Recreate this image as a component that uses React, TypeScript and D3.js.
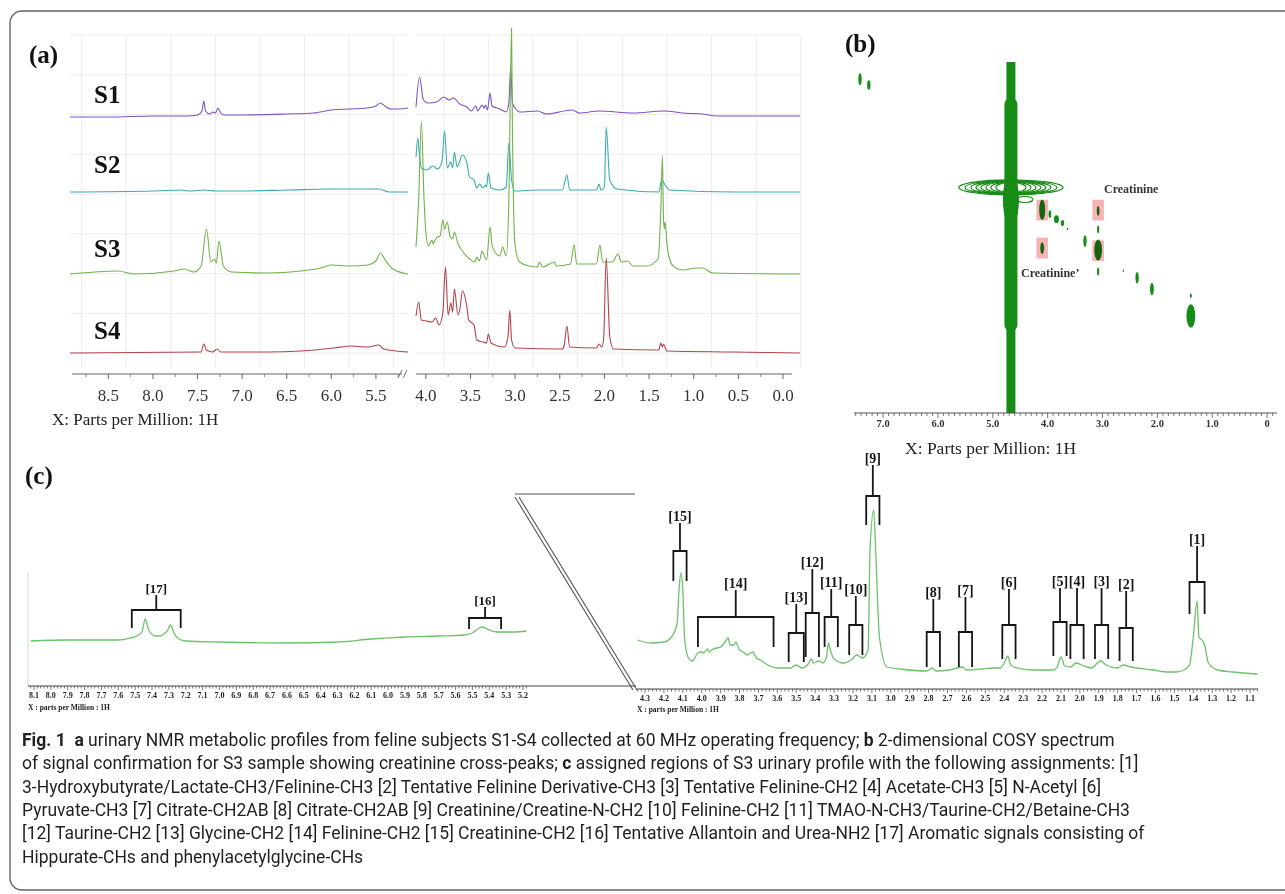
import React from "react";
import * as d3 from "d3";

type Pt = [number, number];

// ---------- (a) 60 MHz 1H urinary profiles: [ppm, intensity] ----------
const samplesA = ["S1", "S2", "S3", "S4"];

const s1Left: Pt[] = [[8.93,0],[8.5,0],[8.0,1],[7.6,1],[7.5,2],[7.45,6],[7.43,16],[7.41,6],[7.36,3],[7.33,5],[7.3,4],[7.27,9],[7.24,4],[7.2,2],[7.0,2],[6.5,3],[6.2,4],[6.0,7],[5.8,8],[5.6,9],[5.5,11],[5.45,14],[5.4,11],[5.33,8],[5.25,8],[5.14,9]];
const s1Right: Pt[] = [[4.11,10],[4.07,40],[4.03,18],[3.98,14],[3.88,15],[3.8,20],[3.74,17],[3.69,19],[3.62,13],[3.54,10],[3.49,6],[3.44,11],[3.42,6],[3.37,12],[3.35,9],[3.33,12],[3.31,7],[3.28,24],[3.26,11],[3.17,8],[3.1,5],[3.07,14],[3.05,50],[3.03,14],[3.0,9],[2.95,5],[2.75,6],[2.65,3],[2.36,7],[2.28,4],[2.06,6],[1.68,4],[1.33,6],[1.13,4],[0.9,3],[0.74,1],[-0.19,1]];

const s2Left: Pt[] = [[8.93,0],[8.0,1],[7.68,2],[7.6,1],[7.42,2],[7.3,1],[7.0,1],[6.5,2],[6.0,3],[5.7,3],[5.47,3],[5.35,0],[5.14,0]];
const s2Right: Pt[] = [[4.11,35],[4.09,54],[4.07,35],[4.05,24],[3.99,22],[3.92,26],[3.87,23],[3.82,30],[3.79,61],[3.76,24],[3.72,30],[3.7,24],[3.68,40],[3.65,25],[3.59,37],[3.54,29],[3.51,15],[3.46,12],[3.43,4],[3.4,8],[3.36,4],[3.33,7],[3.32,5],[3.3,19],[3.27,4],[3.17,2],[3.1,5],[3.07,49],[3.04,12],[3.0,1],[2.76,2],[2.47,2],[2.42,17],[2.39,2],[2.09,2],[2.06,8],[2.04,2],[2.0,5],[1.98,65],[1.94,12],[1.86,3],[1.39,0],[1.36,12],[1.32,7],[1.27,2],[0.56,0],[-0.19,0]];

const s3Left: Pt[] = [[8.93,0],[8.39,3],[8.21,0],[7.76,3],[7.65,5],[7.54,2],[7.46,8],[7.4,45],[7.35,12],[7.31,15],[7.29,11],[7.26,33],[7.21,8],[7.12,2],[6.71,1],[6.34,3],[6.12,6],[6.0,9],[5.78,8],[5.59,9],[5.5,13],[5.45,21],[5.39,13],[5.31,5],[5.14,0]];
const s3Right: Pt[] = [[4.11,27],[4.08,75],[4.05,153],[4.02,75],[4.0,42],[3.97,28],[3.93,34],[3.92,30],[3.89,35],[3.87,37],[3.84,38],[3.81,54],[3.79,45],[3.76,52],[3.73,38],[3.7,35],[3.68,42],[3.64,30],[3.59,23],[3.51,15],[3.45,12],[3.43,17],[3.4,13],[3.37,23],[3.34,17],[3.32,14],[3.28,47],[3.26,30],[3.21,20],[3.17,18],[3.14,27],[3.1,18],[3.07,75],[3.04,246],[3.03,142],[3.0,28],[2.95,12],[2.84,8],[2.75,7],[2.73,12],[2.69,7],[2.56,12],[2.54,8],[2.38,10],[2.34,29],[2.31,10],[2.09,10],[2.05,29],[2.02,12],[1.91,12],[1.85,20],[1.81,12],[1.74,13],[1.68,8],[1.53,8],[1.4,15],[1.37,60],[1.35,118],[1.34,60],[1.33,45],[1.32,52],[1.3,30],[1.27,15],[1.23,8],[1.12,4],[0.97,6],[0.9,6],[0.79,1],[-0.19,0]];

const s4Left: Pt[] = [[8.93,0],[7.46,1],[7.43,9],[7.4,3],[7.33,1],[7.28,4],[7.24,1],[6.71,1],[6.34,2],[5.97,5],[5.78,7],[5.59,6],[5.47,8],[5.41,4],[5.14,1]];
const s4Right: Pt[] = [[4.11,37],[4.08,51],[4.05,33],[3.99,32],[3.93,31],[3.89,35],[3.85,28],[3.81,40],[3.78,86],[3.75,38],[3.72,50],[3.7,41],[3.68,64],[3.64,38],[3.62,43],[3.59,62],[3.54,46],[3.52,33],[3.46,28],[3.43,13],[3.36,11],[3.32,10],[3.3,19],[3.27,10],[3.12,6],[3.08,16],[3.06,43],[3.04,13],[3.0,5],[2.47,4],[2.45,8],[2.42,27],[2.39,6],[2.09,5],[2.06,9],[2.03,6],[2.01,13],[1.98,95],[1.94,16],[1.9,4],[1.39,3],[1.37,10],[1.35,6],[1.34,9],[1.3,2],[0.56,1],[-0.19,0]];

const leftA = [s1Left, s2Left, s3Left, s4Left];
const rightA = [s1Right, s2Right, s3Right, s4Right];
const ticksALeft = [8.5, 8.0, 7.5, 7.0, 6.5, 6.0, 5.5];
const ticksARight = [4.0, 3.5, 3.0, 2.5, 2.0, 1.5, 1.0, 0.5, 0.0];

// ---------- (b) COSY peaks: [f2, f1, half-width f2, half-width f1] ----------
const waterPpm = 4.67;
const cosyPeaks: [number, number, number, number][] = [
  [7.42, 7.44, 0.03, 0.16], [7.26, 7.29, 0.03, 0.12],
  [4.10, 4.10, 0.055, 0.26], [3.96, 3.99, 0.025, 0.1], [3.84, 3.86, 0.045, 0.1],
  [3.73, 3.76, 0.03, 0.08], [3.64, 3.61, 0.012, 0.03], [3.32, 3.30, 0.03, 0.15],
  [3.08, 3.07, 0.07, 0.27], [3.08, 4.07, 0.025, 0.12], [3.08, 3.60, 0.02, 0.1],
  [3.08, 2.52, 0.02, 0.1], [4.10, 3.12, 0.035, 0.15], [2.62, 2.54, 0.012, 0.03],
  [2.37, 2.36, 0.03, 0.15], [2.10, 2.07, 0.035, 0.16], [1.39, 1.90, 0.018, 0.06],
  [1.39, 1.38, 0.08, 0.3],
];
const creatinineCross: Pt[] = [[4.10, 4.09], [3.08, 4.09], [4.10, 3.12], [3.08, 3.05]];
const ticksB = [7, 6, 5, 4, 3, 2, 1, 0];

// ---------- (c) S3 assigned regions: [ppm, intensity] ----------
const cAromatic: Pt[] = [[8.12,0],[7.9,1],[7.75,1],[7.6,1],[7.53,3],[7.49,5],[7.46,9],[7.44,22],[7.42,11],[7.38,5],[7.35,5],[7.33,7],[7.31,10],[7.29,16],[7.27,8],[7.24,2],[7.2,0],[7.0,-1],[6.6,-2],[6.3,-1],[6.1,2],[5.9,4],[5.7,5],[5.55,6],[5.5,8],[5.46,13],[5.44,14],[5.4,11],[5.35,9],[5.25,9],[5.18,10]];
const cAliphatic: Pt[] = [[4.34,30],[4.27,27],[4.2,28],[4.16,33],[4.13,47],[4.12,80],[4.11,97],[4.1,80],[4.09,30],[4.07,12],[4.05,9],[4.02,17],[4.0,18],[3.99,17],[3.97,21],[3.96,18],[3.94,21],[3.9,23],[3.88,27],[3.86,32],[3.85,25],[3.83,25],[3.82,28],[3.8,20],[3.78,18],[3.76,15],[3.74,17],[3.73,18],[3.71,12],[3.69,10],[3.65,5],[3.6,2],[3.53,2],[3.5,5],[3.47,2],[3.44,5],[3.42,11],[3.41,7],[3.38,9],[3.36,7],[3.34,13],[3.33,27],[3.32,20],[3.3,11],[3.25,7],[3.21,10],[3.18,15],[3.15,12],[3.12,20],[3.11,120],[3.09,160],[3.08,120],[3.06,33],[3.02,3],[2.95,1],[2.81,-1],[2.78,2],[2.76,-1],[2.69,0],[2.62,3],[2.6,0],[2.52,1],[2.46,2],[2.42,2],[2.4,7],[2.38,14],[2.37,7],[2.35,3],[2.25,0],[2.14,0],[2.12,3],[2.1,13],[2.08,4],[2.05,3],[2.02,7],[1.99,5],[1.94,2],[1.89,9],[1.86,5],[1.8,2],[1.77,5],[1.73,3],[1.61,0],[1.54,-2],[1.49,-2],[1.45,0],[1.42,5],[1.4,33],[1.38,69],[1.37,33],[1.35,29],[1.34,25],[1.32,7],[1.27,0],[1.19,-2],[1.06,-4]];

// assignment brackets: [label, ppm from, ppm to, leg end, bar, stem top] (intensity units)
const assignRight: [string, number, number, number, number, number][] = [
  ["[15]", 4.15, 4.08, 89, 119, 147], ["[14]", 4.02, 3.62, 23, 53, 80],
  ["[13]", 3.54, 3.46, 8, 37, 66], ["[12]", 3.45, 3.38, 13, 57, 101],
  ["[11]", 3.35, 3.28, 23, 53, 81], ["[10]", 3.22, 3.15, 15, 45, 74],
  ["[9]", 3.13, 3.06, 145, 174, 205], ["[8]", 2.81, 2.74, 3, 38, 71],
  ["[7]", 2.64, 2.57, 3, 38, 73], ["[6]", 2.41, 2.34, 11, 45, 81],
  ["[5]", 2.14, 2.07, 14, 48, 82], ["[4]", 2.05, 1.98, 11, 45, 82],
  ["[3]", 1.92, 1.85, 11, 45, 82], ["[2]", 1.79, 1.72, 9, 42, 79],
  ["[1]", 1.42, 1.34, 56, 88, 124],
];
const assignLeft: [string, number, number, number, number, number][] = [
  ["[17]", 7.52, 7.23, 13, 31, 46], ["[16]", 5.52, 5.33, 12, 23, 34],
];

// ---------- caption ----------
const caption: [string, boolean][][] = [
  [["Fig. 1", true], ["\u00a0\u00a0", false], ["a", true], [" urinary NMR metabolic profiles from feline subjects S1-S4 collected at 60 MHz operating frequency; ", false], ["b", true], [" 2-dimensional COSY spectrum", false]],
  [["of signal confirmation for S3 sample showing creatinine cross-peaks; ", false], ["c", true], [" assigned regions of S3 urinary profile with the following assignments: [1]", false]],
  [["3-Hydroxybutyrate/Lactate-CH3/Felinine-CH3 [2] Tentative Felinine Derivative-CH3 [3] Tentative Felinine-CH2 [4] Acetate-CH3 [5] N-Acetyl [6]", false]],
  [["Pyruvate-CH3 [7] Citrate-CH2AB [8] Citrate-CH2AB [9] Creatinine/Creatine-N-CH2 [10] Felinine-CH2 [11] TMAO-N-CH3/Taurine-CH2/Betaine-CH3", false]],
  [["[12] Taurine-CH2 [13] Glycine-CH2 [14] Felinine-CH2 [15] Creatinine-CH2 [16] Tentative Allantoin and Urea-NH2 [17] Aromatic signals consisting of", false]],
  [["Hippurate-CHs and phenylacetylglycine-CHs", false]],
];

const SERIF = "'Liberation Serif', 'DejaVu Serif', serif";
const SANS = "Roboto, 'Open Sans', sans-serif";

function PanelA() {
  const xL = d3.scaleLinear().domain([8.93, 5.14]).range([70, 408]);
  const xR = d3.scaleLinear().domain([4.11, -0.19]).range([416, 800]);
  const y = d3.scaleLinear().domain([0, 100]).range([0, -100]);
  const baseY = [117, 192, 274, 353];
  const labelY = [103, 173, 257, 339];
  const colors = ["#7b52c6", "#3aacb0", "#72b24a", "#b4434c"];
  const lineL = d3.line<Pt>().x((d) => xL(d[0])).y((d) => y(d[1])).curve(d3.curveMonotoneX);
  const lineR = d3.line<Pt>().x((d) => xR(d[0])).y((d) => y(d[1])).curve(d3.curveMonotoneX);
  const gridY = d3.range(9).map((i) => 35 + i * 39.75);
  const gridL = d3.range(8).map((i) => 8.8 - 0.5 * i);
  const gridR = d3.range(9).map((i) => 3.8 - 0.5 * i);
  const minorL = d3.range(8).map((i) => 8.75 - 0.5 * i);
  const minorR = d3.range(8).map((i) => 3.75 - 0.5 * i);
  const axisY = 374;
  return (
    <g>
      {gridY.map((gy, i) => (
        <g key={"gy" + i}>
          <line x1={70} x2={408} y1={gy} y2={gy} stroke="#ececec" />
          <line x1={416} x2={800} y1={gy} y2={gy} stroke="#ececec" />
        </g>
      ))}
      {gridL.map((p, i) => <line key={"gl" + i} x1={xL(p)} x2={xL(p)} y1={35} y2={368} stroke="#ececec" />)}
      {gridR.map((p, i) => <line key={"gr" + i} x1={xR(p)} x2={xR(p)} y1={35} y2={368} stroke="#ececec" />)}

      {samplesA.map((s, i) => (
        <g key={s} transform={`translate(0,${baseY[i]})`}>
          <path d={lineL(leftA[i]) || ""} fill="none" stroke={colors[i]} strokeWidth={1.1} />
          <path d={lineR(rightA[i]) || ""} fill="none" stroke={colors[i]} strokeWidth={1.1} />
        </g>
      ))}
      {samplesA.map((s, i) => (
        <text key={"l" + s} x={94} y={labelY[i]} fontFamily={SERIF} fontWeight="bold" fontSize={25} fill="#111">{s}</text>
      ))}

      <line x1={72} x2={402} y1={axisY} y2={axisY} stroke="#666" strokeWidth={1.2} />
      <line x1={416} x2={792} y1={axisY} y2={axisY} stroke="#666" strokeWidth={1.2} />
      <path d={`M398,${axisY + 4}L402,${axisY - 4}M403,${axisY + 4}L407,${axisY - 4}`} stroke="#777" strokeWidth={1} />
      {ticksALeft.map((p) => <line key={"tl" + p} x1={xL(p)} x2={xL(p)} y1={axisY} y2={axisY + 5} stroke="#666" />)}
      {ticksARight.map((p) => <line key={"tr" + p} x1={xR(p)} x2={xR(p)} y1={axisY} y2={axisY + 5} stroke="#666" />)}
      {minorL.map((p) => <line key={"ml" + p} x1={xL(p)} x2={xL(p)} y1={axisY} y2={axisY + 3} stroke="#888" />)}
      {minorR.map((p) => <line key={"mr" + p} x1={xR(p)} x2={xR(p)} y1={axisY} y2={axisY + 3} stroke="#888" />)}
      {ticksALeft.map((p) => (
        <text key={"ll" + p} x={xL(p)} y={401} textAnchor="middle" fontFamily={SERIF} fontSize={17} fill="#333">{p.toFixed(1)}</text>
      ))}
      {ticksARight.map((p) => (
        <text key={"lr" + p} x={xR(p)} y={401} textAnchor="middle" fontFamily={SERIF} fontSize={17} fill="#333">{p.toFixed(1)}</text>
      ))}
      <text x={52} y={425} fontFamily={SERIF} fontSize={17} fill="#222">X: Parts per Million: 1H</text>
      <text x={29} y={63} fontFamily={SERIF} fontWeight="bold" fontSize={25} fill="#111">(a)</text>
    </g>
  );
}

function PanelB() {
  const x = d3.scaleLinear().domain([7.53, -0.18]).range([854, 1277]);
  const y = d3.scaleLinear().domain([7.88, -1.1]).range([62, 413]);
  const kx = x(0) - x(1);
  const ky = y(0) - y(1);
  const green = "#168c16";
  const axisY = 413;
  const minor = d3.range(-1, 76).map((i) => i / 10);
  const wx = x(waterPpm);
  const wy = y(waterPpm);
  const rings: Pt[] = [[52, 7.5], [46, 7], [40, 6.8], [35, 6.5], [30, 6.2], [25, 6], [20, 5.5], [15, 5]];
  return (
    <g>
      <text x={845} y={52} fontFamily={SERIF} fontWeight="bold" fontSize={25} fill="#111">(b)</text>
      {/* residual water ridge */}
      <rect x={wx - 4.5} y={62} width={9} height={axisY - 62} fill={green} />
      <rect x={wx - 6.5} y={y(6.95)} width={13} height={y(1.0) - y(6.95)} rx={6} fill={green} />
      <ellipse cx={wx} cy={wy + 12} rx={8} ry={26} fill={green} />
      {rings.map(([rx, ry], i) => (
        <ellipse key={"r" + i} cx={wx} cy={wy} rx={rx} ry={ry} fill="none" stroke={green} strokeWidth={1.2} />
      ))}
      <ellipse cx={wx + 14} cy={wy + 12} rx={8} ry={3} fill="none" stroke={green} strokeWidth={1.1} />
      {cosyPeaks.map(([f2, f1, w2, w1], i) => (
        <ellipse key={"p" + i} cx={x(f2)} cy={y(f1)} rx={w2 * kx} ry={w1 * ky} fill={green} />
      ))}
      {creatinineCross.map(([f2, f1], i) => (
        <rect key={"c" + i} x={x(f2 + 0.105)} y={y(f1 + 0.265)} width={0.21 * kx} height={0.53 * ky}
          fill="#f7b4b4" style={{ mixBlendMode: "multiply" }} />
      ))}
      <text x={1104} y={193} fontFamily={SERIF} fontWeight="bold" fontSize={12} fill="#333">Creatinine</text>
      <text x={1021} y={277} fontFamily={SERIF} fontWeight="bold" fontSize={12} fill="#333">Creatinine’</text>

      <line x1={854} x2={1277} y1={axisY} y2={axisY} stroke="#555" strokeWidth={1.2} />
      {minor.map((p) => {
        const major = Math.abs(p - Math.round(p)) < 1e-6;
        return <line key={"m" + p} x1={x(p)} x2={x(p)} y1={axisY} y2={axisY + (major ? 5 : 3)} stroke="#555" strokeWidth={0.8} />;
      })}
      {ticksB.map((p) => (
        <text key={"t" + p} x={x(p)} y={427} textAnchor="middle" fontFamily={SERIF} fontWeight="bold" fontSize={10.5} fill="#333">
          {p === 0 ? "0" : p.toFixed(1)}
        </text>
      ))}
      <text x={905} y={454} fontFamily={SERIF} fontSize={17.5} fill="#222">X: Parts per Million: 1H</text>
    </g>
  );
}

function Bracket({ item, x, y, fs }: { item: [string, number, number, number, number, number]; x: any; y: any; fs: number }) {
  const [label, lo, hi, legs, bar, top] = item;
  const x0 = x(lo);
  const x1 = x(hi);
  const xm = (x0 + x1) / 2;
  return (
    <g>
      <path d={`M${x0},${y(legs)}V${y(bar)}H${x1}V${y(legs)}M${xm},${y(bar)}V${y(top)}`} fill="none" stroke="#161616" strokeWidth={1.8} />
      <text x={xm} y={y(top) - 2} textAnchor="middle" fontFamily={SERIF} fontWeight="bold" fontSize={fs} fill="#161616">{label}</text>
    </g>
  );
}

function PanelC() {
  const xL = d3.scaleLinear().domain([8.1, 5.2]).range([34, 523]);
  const xR = d3.scaleLinear().domain([4.3, 1.1]).range([645, 1250]);
  const yL = d3.scaleLinear().domain([0, 50]).range([641, 591]);
  const yR = d3.scaleLinear().domain([0, 200]).range([670, 470]);
  const lineL = d3.line<Pt>().x((d) => xL(d[0])).y((d) => yL(d[1])).curve(d3.curveMonotoneX);
  const lineR = d3.line<Pt>().x((d) => xR(d[0])).y((d) => yR(d[1])).curve(d3.curveMonotoneX);
  const green = "#6dc26b";
  const axL = 686;
  const axR = 689;
  const ticksL = d3.range(259, 407).map((i) => i / 50);
  const ticksR = d3.range(53, 218).map((i) => i / 50);
  const labL = d3.range(52, 82).map((i) => i / 10);
  const labR = d3.range(11, 44).map((i) => i / 10);
  return (
    <g>
      <text x={25} y={484} fontFamily={SERIF} fontWeight="bold" fontSize={25} fill="#111">(c)</text>
      <line x1={28} x2={28} y1={572} y2={axL} stroke="#d6d6d6" />
      <path d={lineL(cAromatic) || ""} fill="none" stroke={green} strokeWidth={1.3} />
      <path d={lineR(cAliphatic) || ""} fill="none" stroke={green} strokeWidth={1.3} />

      <line x1={515} x2={635} y1={494} y2={494} stroke="#555" strokeWidth={1.2} />
      <line x1={515} x2={633} y1={497} y2={690} stroke="#555" strokeWidth={1.1} />
      <line x1={519} x2={637} y1={497} y2={690} stroke="#555" strokeWidth={1.1} />

      <line x1={28} x2={636} y1={axL} y2={axL} stroke="#444" strokeWidth={1.2} />
      <line x1={637} x2={1258} y1={axR} y2={axR} stroke="#444" strokeWidth={1.2} />
      {ticksL.map((p, i) => (
        <line key={"tl" + i} x1={xL(p)} x2={xL(p)} y1={axL} y2={axL + ((259 + i) % 5 === 0 ? 4 : 2.5)} stroke="#444" strokeWidth={0.7} />
      ))}
      {ticksR.map((p, i) => (
        <line key={"tr" + i} x1={xR(p)} x2={xR(p)} y1={axR} y2={axR + ((53 + i) % 5 === 0 ? 4 : 2.5)} stroke="#444" strokeWidth={0.7} />
      ))}
      {labL.map((p) => (
        <text key={"ll" + p} x={xL(p)} y={698} textAnchor="middle" fontFamily={SERIF} fontWeight="bold" fontSize={8} fill="#222">{p.toFixed(1)}</text>
      ))}
      {labR.map((p) => (
        <text key={"lr" + p} x={xR(p)} y={701} textAnchor="middle" fontFamily={SERIF} fontWeight="bold" fontSize={8} fill="#222">{p.toFixed(1)}</text>
      ))}
      <text x={28} y={710} fontFamily={SERIF} fontWeight="bold" fontSize={7.5} fill="#222">X : parts per Million : 1H</text>
      <text x={637} y={712} fontFamily={SERIF} fontWeight="bold" fontSize={7.5} fill="#222">X : parts per Million : 1H</text>

      {assignLeft.map((it) => <Bracket key={it[0]} item={it} x={xL} y={yL} fs={13} />)}
      {assignRight.map((it) => <Bracket key={it[0]} item={it} x={xR} y={yR} fs={14} />)}
    </g>
  );
}

export default function App() {
  return (
    <svg width={1285} height={894} style={{ position: "absolute", left: 0, top: 0, background: "#fff" }}>
      <rect x={10} y={11} width={1300} height={879} rx={12} fill="#fff" stroke="#666" strokeWidth={1.4} />
      <PanelA />
      <PanelB />
      <PanelC />
      {caption.map((parts, i) => (
        <text key={i} x={22} y={746 + i * 23.3} fontFamily={SANS} fontSize={17.5} fill="#231f20">
          {parts.map(([t, b], j) => (
            <tspan key={j} fontWeight={b ? "bold" : "normal"}>{t}</tspan>
          ))}
        </text>
      ))}
    </svg>
  );
}
